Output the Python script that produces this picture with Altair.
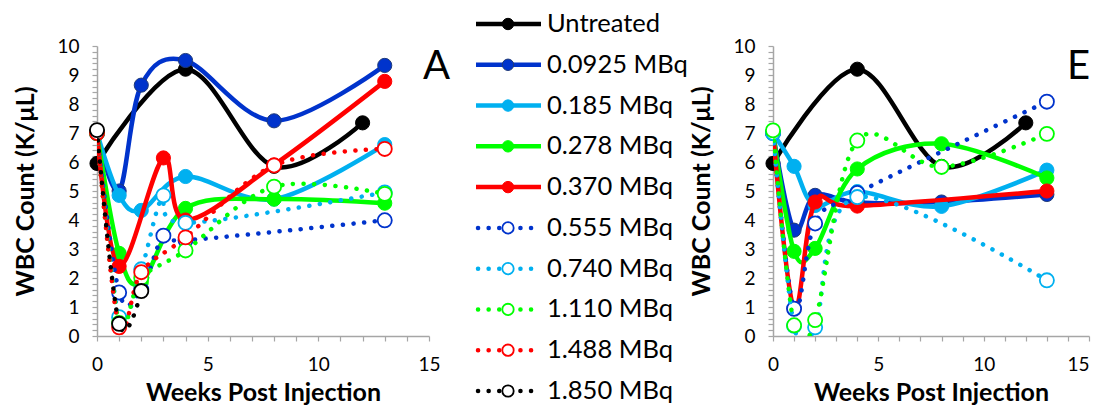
import altair as alt
import pandas as pd

SERIES = ["Untreated", "0.0925 MBq", "0.185 MBq", "0.278 MBq", "0.370 MBq",
          "0.555 MBq", "0.740 MBq", "1.110 MBq", "1.488 MBq", "1.850 MBq"]
DOTTED = [False, False, False, False, False, True, True, True, True, True]
COLORS = ["#000000", "#0033CC", "#00B0F0", "#00FF00", "#FF0000",
          "#0033CC", "#00B0F0", "#00FF00", "#FF0000", "#000000"]
OUTLINES = ["#000000", "#1F3A78", "#00B0F0", "#00FF00", "#FF0000",
            "#0033CC", "#00B0F0", "#00FF00", "#FF0000", "#000000"]

# Panel A : weeks and WBC count (K/uL) per series
A_WEEKS = {
    "Untreated": [0, 4, 8, 12],
    "0.0925 MBq": [0, 1, 2, 4, 8, 13],
    "0.185 MBq": [0, 1, 2, 4, 8, 13],
    "0.278 MBq": [0, 1, 2, 4, 8, 13],
    "0.370 MBq": [0, 1, 3, 4, 8, 13],
    "0.555 MBq": [0, 1, 2, 3, 4, 13],
    "0.740 MBq": [0, 1, 2, 3, 4, 13],
    "1.110 MBq": [0, 1, 2, 4, 8, 13],
    "1.488 MBq": [0, 1, 2, 4, 8, 13],
    "1.850 MBq": [0, 1, 2],
}
A_WBC = {
    "Untreated": [5.95, 9.2, 5.85, 7.35],
    "0.0925 MBq": [7.0, 5.0, 8.65, 9.5, 7.42, 9.33],
    "0.185 MBq": [7.0, 4.85, 4.33, 5.5, 4.72, 6.6],
    "0.278 MBq": [7.0, 2.85, 1.85, 4.4, 4.72, 4.58],
    "0.370 MBq": [7.0, 2.4, 6.14, 4.0, 5.9, 8.78],
    "0.555 MBq": [7.0, 1.5, 1.6, 3.46, 3.3, 3.99],
    "0.740 MBq": [7.0, 0.65, 2.3, 4.85, 3.9, 4.95],
    "1.110 MBq": [7.0, 0.45, 2.0, 2.95, 5.15, 4.9],
    "1.488 MBq": [7.0, 0.3, 2.2, 3.4, 5.88, 6.45],
    "1.850 MBq": [7.1, 0.42, 1.55],
}

# Panel E
E_WEEKS = {
    "Untreated": [0, 4, 8, 12],
    "0.0925 MBq": [0, 1, 2, 4, 8, 13],
    "0.185 MBq": [0, 1, 2, 4, 8, 13],
    "0.278 MBq": [0, 1, 2, 4, 8, 13],
    "0.370 MBq": [0, 1, 2, 4, 13],
    "0.555 MBq": [0, 1, 2, 4, 13],
    "0.740 MBq": [0, 1, 2, 4, 13],
    "1.110 MBq": [0, 1, 2, 4, 8, 13],
}
E_WBC = {
    "Untreated": [5.95, 9.2, 5.85, 7.35],
    "0.0925 MBq": [7.0, 3.65, 4.85, 4.6, 4.62, 4.88],
    "0.185 MBq": [7.0, 5.85, 4.5, 4.98, 4.47, 5.72],
    "0.278 MBq": [7.0, 2.92, 3.02, 5.76, 6.63, 5.45],
    "0.370 MBq": [7.0, 0.94, 4.62, 4.48, 5.0],
    "0.555 MBq": [7.0, 0.94, 3.88, 4.93, 8.08],
    "0.740 MBq": [7.0, 0.35, 0.3, 4.79, 1.92],
    "1.110 MBq": [7.09, 0.37, 0.55, 6.74, 5.83, 6.97],
}

X_TICKS = list(range(16))
Y_TICKS = [round(i * 0.2, 1) for i in range(51)]
AXIS_GREY = "#A6A6A6"
TICK_FONT = "Lato"
TITLE_FONT = "Lato"
LEGEND_FONT = "Lato"
PLOT_H = 290


def make_df(weeks, wbc):
    rows = []
    for s in SERIES:
        if s in weeks:
            for w, v in zip(weeks[s], wbc[s]):
                rows.append({"series": s, "week": w, "wbc": v})
    return pd.DataFrame(rows)


def x_axis(last_right):
    align = {"condition": {"test": "datum.value === 15", "value": "right"}, "value": "center"} \
        if last_right else "center"
    return alt.Axis(values=X_TICKS,
                    labelExpr="datum.value % 5 === 0 ? format(datum.value, 'd') : ''",
                    labelAlign=align,
                    tickSize=5, tickColor=AXIS_GREY, tickWidth=1.2, domainColor=AXIS_GREY,
                    domainWidth=1.5, labelFont=TICK_FONT, labelFontSize=19, labelColor="#000000",
                    labelPadding=14, labelFlush=False, labelOverlap=False, grid=False,
                    title="Weeks Post Injection", titleFont=TITLE_FONT, titleFontSize=25,
                    titleFontWeight="bold", titleColor="#000000", titlePadding=6)


y_axis = alt.Axis(values=Y_TICKS,
                  labelExpr="abs(datum.value - round(datum.value)) < 0.01 ? format(datum.value, 'd') : ''",
                  tickSize=5, tickColor=AXIS_GREY, tickWidth=1.2, domainColor=AXIS_GREY,
                  domainWidth=1.5, labelFont=TICK_FONT, labelFontSize=19, labelColor="#000000",
                  labelPadding=13, labelOverlap=False, grid=False,
                  title="WBC Count (K/\u03bcL)", titleFont=TITLE_FONT, titleFontSize=25,
                  titleFontWeight="bold", titleColor="#000000", titlePadding=18)


def panel(weeks, wbc, width, label, label_x, last_right):
    df = make_df(weeks, wbc)
    x = alt.X("week:Q", scale=alt.Scale(domain=[0, 15], nice=False), axis=x_axis(last_right))
    y = alt.Y("wbc:Q", scale=alt.Scale(domain=[0, 10], nice=False), axis=y_axis)
    layers = []
    for i, s in enumerate(SERIES):
        if s not in weeks:
            continue
        base = alt.Chart().transform_filter(alt.datum.series == s)
        if DOTTED[i]:
            line = base.mark_line(interpolate="cardinal", color=COLORS[i], strokeWidth=4.5,
                                  strokeCap="round", strokeDash=[0.1, 10.5], clip=True)
            pts = base.mark_point(shape="circle", filled=True, fill="white", stroke=COLORS[i],
                                  strokeWidth=1.8, size=200, opacity=1)
        else:
            line = base.mark_line(interpolate="cardinal", color=COLORS[i], strokeWidth=4.5,
                                  clip=True)
            pts = base.mark_point(shape="circle", filled=True, fill=COLORS[i], stroke=OUTLINES[i],
                                  strokeWidth=1, size=200, opacity=1)
        layers.append(line.encode(x=x, y=y))
        layers.append(pts.encode(x=x, y=y))
    lab = alt.Chart(pd.DataFrame({"t": [label]})).mark_text(
        align="left", baseline="alphabetic", font="Lato", fontSize=40,
        color="#000000").encode(text="t:N", x=alt.value(label_x), y=alt.value(33))
    layers.append(lab)
    return alt.layer(*layers, data=df).properties(width=width, height=PLOT_H)


panel_a = panel(A_WEEKS, A_WBC, 332, "A", 326, False)
panel_e = panel(E_WEEKS, E_WBC, 316, "E", 294, True)

# legend
leg_df = pd.DataFrame({"series": SERIES, "idx": list(range(len(SERIES)))})
ly = alt.Y("idx:Q", scale=alt.Scale(domain=[0, 9], range=[-22, 345]), axis=None)
leg_layers = []
for i, s in enumerate(SERIES):
    base = alt.Chart(leg_df).transform_filter(alt.datum.series == s)
    if DOTTED[i]:
        rule = base.mark_rule(color=COLORS[i], strokeWidth=4.5, strokeCap="round",
                              strokeDash=[0.1, 10.5]).encode(x=alt.value(29), x2=alt.value(89), y=ly)
        pt = base.mark_point(shape="circle", filled=True, fill="white", stroke=COLORS[i],
                             strokeWidth=1.8, size=130, opacity=1).encode(x=alt.value(59), y=ly)
    else:
        rule = base.mark_rule(color=COLORS[i], strokeWidth=4.5).encode(
            x=alt.value(27), x2=alt.value(92), y=ly)
        pt = base.mark_point(shape="circle", filled=True, fill=COLORS[i], stroke=OUTLINES[i],
                             strokeWidth=1, size=130, opacity=1).encode(x=alt.value(59), y=ly)
    leg_layers += [rule, pt]
leg_text = alt.Chart(leg_df).mark_text(align="left", baseline="middle", font=LEGEND_FONT,
                                       fontSize=25.5, color="#000000").encode(
    text="series:N", x=alt.value(98), y=ly)
leg_layers.append(leg_text)
legend = alt.layer(*leg_layers).properties(width=304, height=PLOT_H)

chart = alt.hconcat(panel_a, legend, panel_e, spacing=20, bounds="flush").properties(
    padding={"left": 5, "top": 4, "right": 0, "bottom": 0},
    background="white",
).configure_view(stroke=None)

chart.save("out.html", embed_options={"renderer": "svg", "actions": False})
